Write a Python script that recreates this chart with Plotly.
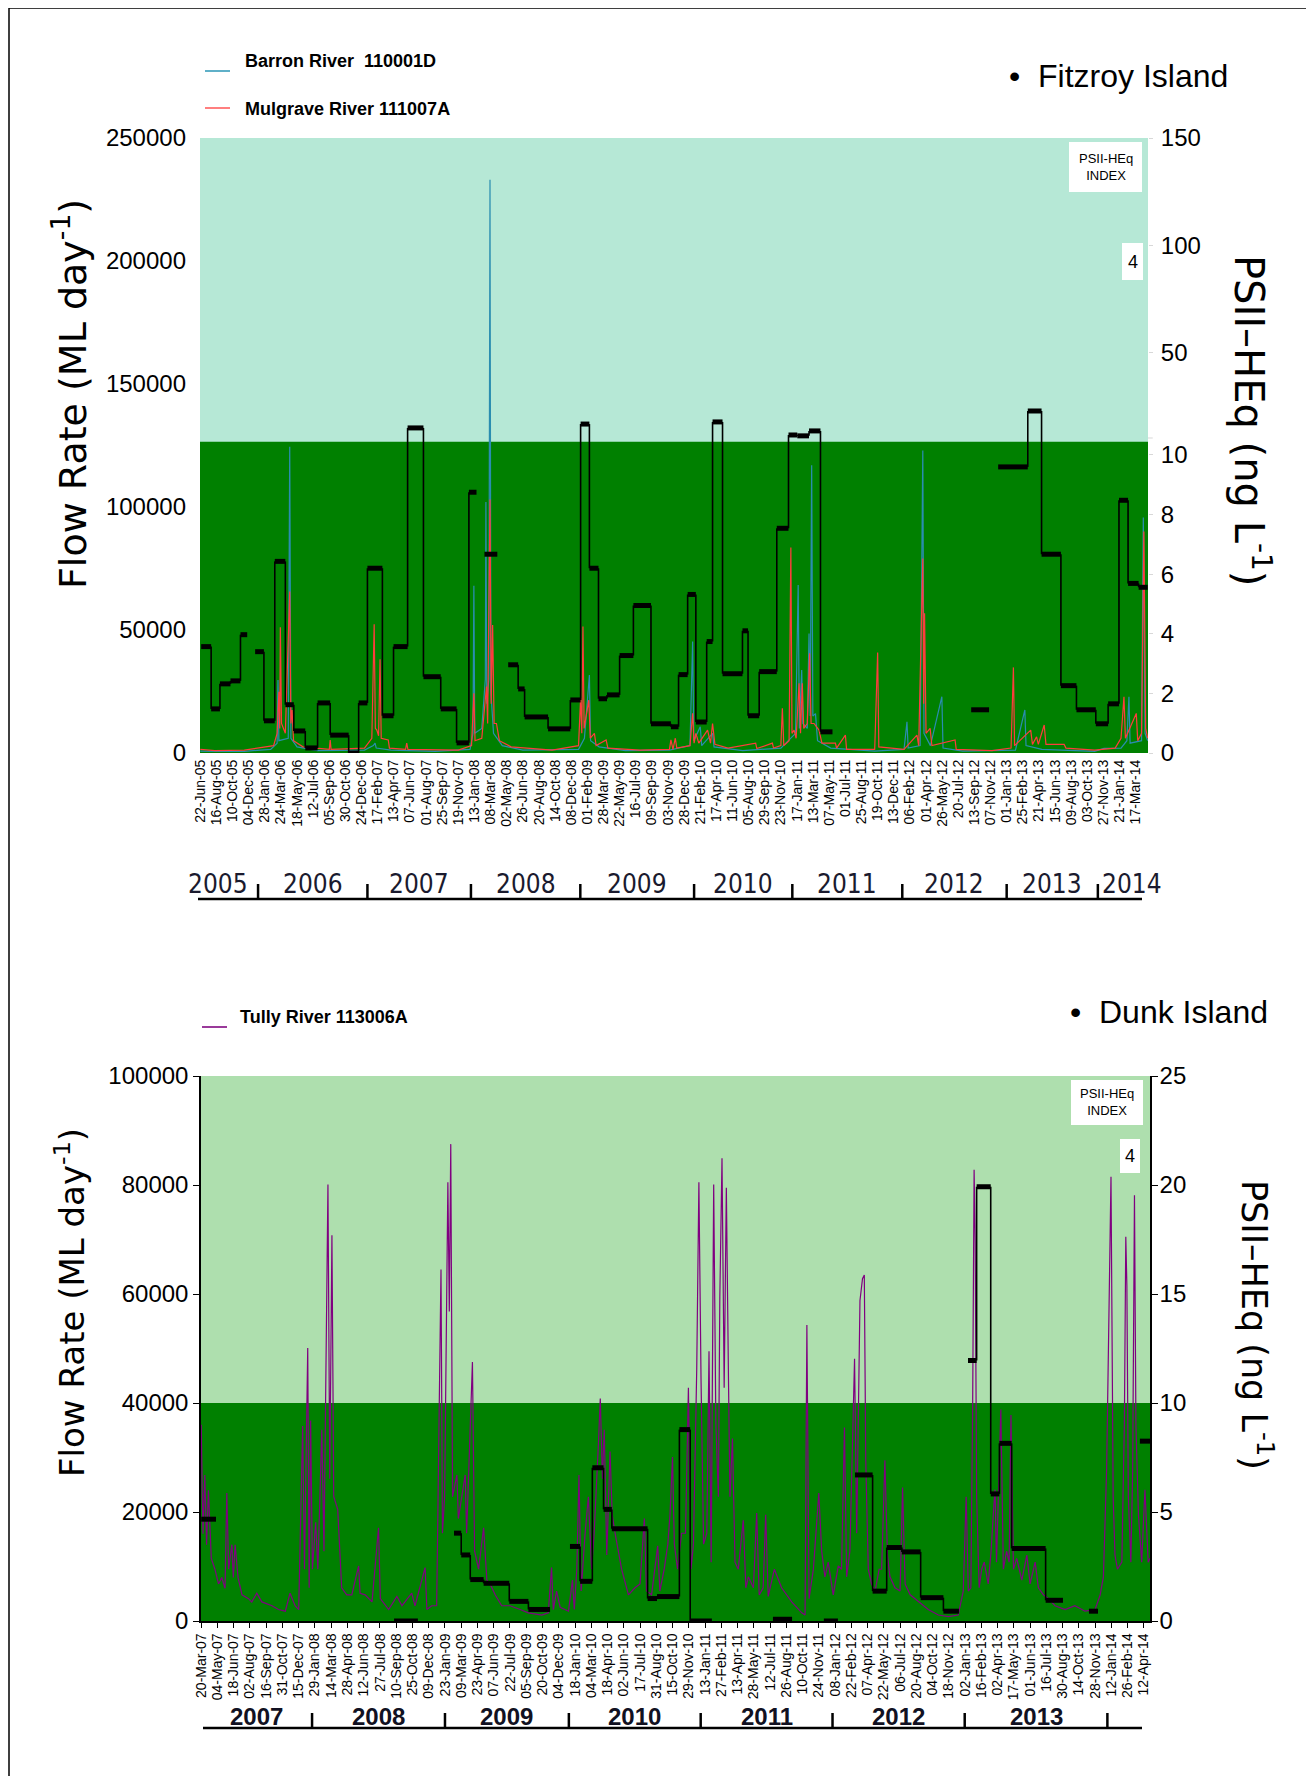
import numpy as np
import pandas as pd
import plotly.graph_objects as go

W, H = 1314, 1776
OFF = 8                      # browser body margin
FW, FH = W - OFF, H - OFF    # figure size
FONT = "Liberation Sans, Arial, sans-serif"
NARROW = "Liberation Sans Narrow, Arial Narrow, DejaVu Sans Condensed, sans-serif"
WIDE = "DejaVu Sans, Verdana, sans-serif"

# ------------------------------------------------------------------
# Fitzroy Island panel (top) -- x values are days after 22-Jun-2005
# ------------------------------------------------------------------
TOP_START = "2005-06-22"
TOP_TICK_STEP = 55
top_tick_labels = ["22-Jun-05", "16-Aug-05", "10-Oct-05", "04-Dec-05", "28-Jan-06", "24-Mar-06", "18-May-06",
                   "12-Jul-06", "05-Sep-06", "30-Oct-06", "24-Dec-06", "17-Feb-07", "13-Apr-07", "07-Jun-07",
                   "01-Aug-07", "25-Sep-07", "19-Nov-07", "13-Jan-08", "08-Mar-08", "02-May-08", "26-Jun-08",
                   "20-Aug-08", "14-Oct-08", "08-Dec-08", "01-Feb-09", "28-Mar-09", "22-May-09", "16-Jul-09",
                   "09-Sep-09", "03-Nov-09", "28-Dec-09", "21-Feb-10", "17-Apr-10", "11-Jun-10", "05-Aug-10",
                   "29-Sep-10", "23-Nov-10", "17-Jan-11", "13-Mar-11", "07-May-11", "01-Jul-11", "25-Aug-11",
                   "19-Oct-11", "13-Dec-11", "06-Feb-12", "01-Apr-12", "26-May-12", "20-Jul-12", "13-Sep-12",
                   "07-Nov-12", "01-Jan-13", "25-Feb-13", "21-Apr-13", "15-Jun-13", "09-Aug-13", "03-Oct-13",
                   "27-Nov-13", "21-Jan-14", "17-Mar-14"]
top_years = ["2005", "2006", "2007", "2008", "2009", "2010", "2011", "2012", "2013", "2014"]
# year separators as drawn in the source
top_year_bounds = ["2006-01-05", "2007-01-13", "2008-01-01", "2009-01-08", "2010-01-31",
                   "2011-01-01", "2012-01-11", "2013-01-01", "2013-11-08"]

barron_day = [0, 60, 150, 240, 262, 265, 268, 300, 305, 309, 330, 400, 560, 590, 596, 600, 650, 800, 920, 930,
              933, 936, 960, 972, 974, 977, 984, 988, 991, 1000, 1030, 1100, 1290, 1310, 1327, 1331, 1360, 1450,
              1600, 1670, 1679, 1683, 1705, 1710, 1747, 1752, 1850, 1980, 2030, 2039, 2043, 2051, 2055, 2070,
              2076, 2080, 2085, 2089, 2098, 2105, 2150, 2300, 2400, 2410, 2414, 2455, 2464, 2468, 2490, 2529,
              2533, 2600, 2780, 2812, 2816, 2870, 3050, 3082, 3140, 3160, 3167, 3171, 3210, 3216, 3222, 3231]
barron_flow = [800, 600, 700, 1500, 4000, 29700, 5000, 6000, 124500, 6000, 2500, 1000, 1200, 3000, 4000, 2000,
               1200, 700, 1500, 8000, 68000, 8000, 10000, 30000, 102000, 20000, 30000, 233000, 25000, 8000, 3000,
               1200, 1500, 6000, 31700, 5000, 2500, 1000, 1200, 3000, 45300, 5000, 10700, 3000, 8000, 2500, 1000,
               2000, 8000, 68300, 10000, 33700, 12000, 10000, 48600, 15000, 117000, 15000, 16000, 5000, 2000, 800,
               1500, 12700, 2000, 3000, 123000, 8000, 3000, 22900, 2000, 800, 1200, 17500, 3000, 1500, 700, 1900,
               2000, 5000, 22900, 4000, 5000, 95700, 8000, 5000]

mulgrave_day = [0, 50, 150, 250, 262, 268, 271, 273, 277, 290, 305, 309, 313, 318, 350, 440, 443, 446, 560, 585,
                593, 597, 602, 608, 613, 617, 641, 645, 700, 704, 708, 880, 925, 933, 937, 960, 976, 980, 988,
                992, 997, 1002, 1010, 1020, 1060, 1200, 1290, 1297, 1301, 1305, 1309, 1325, 1330, 1344, 1350,
                1384, 1390, 1500, 1600, 1605, 1612, 1620, 1625, 1670, 1679, 1684, 1690, 1700, 1730, 1740, 1747,
                1755, 1800, 1894, 1898, 1951, 1955, 1980, 1985, 1990, 2008, 2014, 2018, 2025, 2032, 2042, 2047,
                2053, 2058, 2070, 2078, 2083, 2093, 2110, 2120, 2166, 2170, 2200, 2204, 2300, 2310, 2314, 2400,
                2444, 2450, 2464, 2467, 2470, 2475, 2489, 2495, 2574, 2578, 2700, 2765, 2773, 2777, 2832, 2838,
                2852, 2858, 2878, 2884, 2946, 2952, 3050, 3120, 3140, 3150, 3155, 3192, 3197, 3210, 3218, 3224,
                3231]
mulgrave_flow = [1500, 1000, 1200, 3000, 8000, 24900, 10000, 51100, 12000, 8000, 65600, 12000, 17500, 5000, 2500,
                 1500, 5300, 1500, 2000, 6000, 52300, 10000, 9300, 7000, 38100, 6000, 5300, 2000, 1500, 4000, 1500,
                 1200, 3000, 24300, 5000, 6000, 27000, 12000, 103000, 20000, 52000, 12000, 12000, 5000, 2500, 1200,
                 3000, 22200, 8000, 51400, 10000, 21500, 6000, 8000, 3000, 5300, 2000, 1200, 1500, 5300, 1500,
                 6000, 2000, 3000, 16100, 4000, 8000, 4000, 9300, 4000, 12000, 3500, 2000, 4000, 1800, 4000, 2000,
                 3000, 18200, 3000, 5000, 83500, 8000, 9300, 6000, 28300, 8000, 28300, 10000, 12000, 40500, 12000,
                 12000, 9300, 4000, 4000, 2000, 7300, 1500, 1500, 40800, 2500, 1500, 7300, 3000, 79100, 20000,
                 56800, 8000, 10000, 3000, 5300, 1500, 1000, 2000, 34800, 3000, 9300, 3500, 6600, 3500, 11400,
                 3500, 3500, 2000, 1200, 2000, 6000, 22900, 6000, 16100, 5000, 8000, 90000, 10000, 6000]

fitz_start = [3, 37, 67, 103, 137, 187, 217, 254, 290, 319, 358, 400, 443, 506, 540, 570, 621, 659, 707, 761,
              820, 874, 916, 969, 1050, 1084, 1106, 1186, 1262, 1297, 1327, 1358, 1387, 1430, 1477, 1537, 1605,
              1631, 1662, 1690, 1727, 1747, 1781, 1849, 1868, 1906, 1966, 2006, 2036, 2076, 2115, 2629, 2721,
              2822, 2869, 2935, 2988, 3054, 3096, 3133, 3164, 3200]
fitz_end = [37, 67, 103, 137, 160, 217, 254, 290, 319, 358, 400, 443, 506, 540, 570, 621, 659, 707, 761, 820,
            874, 916, 942, 1013, 1084, 1106, 1186, 1262, 1297, 1327, 1358, 1387, 1430, 1477, 1537, 1605, 1631,
            1662, 1690, 1727, 1747, 1781, 1849, 1868, 1906, 1966, 2006, 2036, 2076, 2115, 2156, 2690, 2822,
            2869, 2935, 2988, 3054, 3096, 3133, 3164, 3200, 3231]
fitz_psii = [3.57, 1.48, 2.32, 2.42, 3.97, 3.4, 1.08, 6.43, 1.62, 0.74, 0.17, 1.68, 0.6, 0.0, 1.68, 6.2, 1.25,
             3.57, 14.7, 2.56, 1.48, 0.34, 8.75, 6.67, 2.96, 2.15, 1.21, 0.81, 1.78, 16.5, 6.2, 1.82, 1.95, 3.27,
             4.95, 0.98, 0.88, 2.63, 5.32, 1.04, 3.74, 17.5, 2.66, 4.1, 1.25, 2.73, 7.54, 11.4, 11.0, 13.3, 0.71,
             1.45, 9.6, 22.6, 6.67, 2.26, 1.45, 0.98, 1.65, 8.48, 5.69, 5.56]
fitz_right_ticks_low = [0, 2, 4, 6, 8, 10]
fitz_right_ticks_high = [50, 100, 150]

# ------------------------------------------------------------------
# Dunk Island panel (bottom) -- x values are days after 20-Mar-2007
# (the source date axis drops ~30 days in mid-2013; labels follow it)
# ------------------------------------------------------------------
BOT_START = "2007-03-20"
BOT_TICK_STEP = 45
bot_tick_labels = ["20-Mar-07", "04-May-07", "18-Jun-07", "02-Aug-07", "16-Sep-07", "31-Oct-07", "15-Dec-07",
                   "29-Jan-08", "14-Mar-08", "28-Apr-08", "12-Jun-08", "27-Jul-08", "10-Sep-08", "25-Oct-08",
                   "09-Dec-08", "23-Jan-09", "09-Mar-09", "23-Apr-09", "07-Jun-09", "22-Jul-09", "05-Sep-09",
                   "20-Oct-09", "04-Dec-09", "18-Jan-10", "04-Mar-10", "18-Apr-10", "02-Jun-10", "17-Jul-10",
                   "31-Aug-10", "15-Oct-10", "29-Nov-10", "13-Jan-11", "27-Feb-11", "13-Apr-11", "28-May-11",
                   "12-Jul-11", "26-Aug-11", "10-Oct-11", "24-Nov-11", "08-Jan-12", "22-Feb-12", "07-Apr-12",
                   "22-May-12", "06-Jul-12", "20-Aug-12", "04-Oct-12", "18-Nov-12", "02-Jan-13", "16-Feb-13",
                   "02-Apr-13", "17-May-13", "01-Jun-13", "16-Jul-13", "30-Aug-13", "14-Oct-13", "28-Nov-13",
                   "12-Jan-14", "26-Feb-14", "12-Apr-14"]
bot_years = ["2007", "2008", "2009", "2010", "2011", "2012", "2013"]
bot_year_bounds = ["2008-01-21", "2009-01-23", "2010-01-01", "2011-01-01", "2012-01-01",
                   "2013-01-01", "2014-01-31"]

tully_day = [0, 5, 10, 15, 20, 28, 38, 48, 57, 66, 71, 76, 85, 89, 94, 102, 113, 131, 140, 154, 168, 196, 214,
             233, 246, 260, 270, 281, 286, 295, 299, 303, 308, 317, 323, 334, 340, 351, 356, 362, 367, 378, 389,
             403, 417, 436, 440, 454, 473, 491, 496, 519, 542, 556, 583, 592, 620, 625, 638, 652, 664, 668, 674,
             683, 687, 691, 696, 708, 712, 722, 731, 735, 751, 757, 768, 782, 791, 800, 814, 832, 855, 883,
             906, 943, 961, 970, 975, 984, 994, 1017, 1028, 1033, 1040, 1046, 1052, 1063, 1072, 1081, 1088, 1100,
             1105, 1111, 1116, 1123, 1132, 1138, 1146, 1164, 1183, 1201, 1215, 1227, 1233, 1247, 1264, 1270,
             1282, 1292, 1298, 1305, 1310, 1319, 1330, 1341, 1349, 1356, 1363, 1372, 1378, 1384, 1391, 1400,
             1406, 1412, 1419, 1425, 1432, 1436, 1442, 1448, 1454, 1460, 1464, 1471, 1478, 1487, 1501, 1508,
             1515, 1529, 1538, 1545, 1556, 1563, 1570, 1587, 1607, 1635, 1663, 1672, 1677, 1683, 1695, 1710,
             1718, 1727, 1736, 1750,
             1764, 1773, 1781, 1787, 1796, 1809, 1815, 1824, 1831, 1836, 1840, 1847, 1856, 1866, 1877, 1884,
             1893, 1900, 1907, 1921, 1935, 1942, 1949, 1963, 1986, 2013, 2041, 2069, 2096, 2110, 2118, 2124,
             2131, 2136, 2140, 2143, 2147, 2154, 2161, 2168, 2179, 2187, 2193, 2198, 2202, 2209, 2214, 2221,
             2230, 2237, 2242, 2249, 2258, 2272, 2286, 2295, 2309, 2318, 2332, 2346, 2364, 2392, 2419, 2447,
             2475, 2489, 2498, 2507, 2513, 2519, 2525, 2530, 2537, 2549, 2556, 2560, 2563, 2567, 2574, 2579,
             2584, 2588, 2595, 2604, 2613, 2622, 2627]
tully_flow = [36000, 16000, 26800, 14000, 24000, 11500, 9500, 6800, 8000, 6000, 23500, 9500, 14000, 8000, 14000,
              8000, 4800, 4100, 3500, 5100, 3500, 2800, 2100, 1800, 5100, 2800, 2100, 35800, 9500, 50100, 6100,
              36800, 9500, 18100, 9500, 35100, 12800, 80100, 26100, 70800, 22800, 20500, 6100, 4800, 4800, 10100,
              5100, 4800, 3500, 17100, 4100, 2100, 4500, 2800, 5100, 2800, 9800, 2100, 2800, 2800, 64500, 16100,
              22800, 80500, 56800, 87500, 22800, 26800, 18800, 22800, 26800, 16100, 47500, 12800, 9500, 17100,
              7500, 6800, 4800, 2800, 2800, 2100,
              1500, 1100, 1500, 9800, 2100, 5500, 2500, 1800, 7500, 2100, 9500, 26800, 5500, 16100, 22800, 9500,
              16100, 32800, 40800, 26100, 35100, 12100, 31100, 19500, 16100, 9500, 4800, 6100, 6800, 18800, 5500,
              4800, 13800, 5500, 9500, 14100, 19500, 30100, 14100, 9500, 16100, 16100, 42800, 9500, 14100, 46100,
              80500, 44100, 14100, 16100, 49500, 10800, 80100, 36100, 22800, 59500, 84900, 42800, 79500, 44100,
              22800, 33500, 10800, 9500, 18500, 6100, 8100, 6100, 19800, 4800, 6100, 19500, 4500, 9500, 6100,
              3500, 1500, 1100, 54300, 4100, 9500, 23500, 12800, 8100, 10800, 4800,
              10100, 9500, 35500, 8100, 12800, 48100, 16100, 58800, 62800, 63500, 29500, 9500, 6800, 5500, 9500,
              9500, 29500, 12100, 8100, 6100, 5500, 24500, 6800, 4800, 3500, 2100, 1100, 800, 1100, 5500, 22800,
              5500, 6100, 39500, 82800, 69500, 22800, 6100, 9500, 10800, 6800, 12800, 19500, 24100, 10800, 27500,
              38800, 9500, 12800, 10800, 37800, 9500, 11500, 7500, 12100, 6800, 10800, 6100, 4800, 4100, 2800,
              2100, 2800, 1800, 2100, 4800, 8100, 28100, 56800, 81500, 22800, 12100, 9500, 10800, 36100, 70500,
              61500, 22800, 10800, 27500, 78100, 36100, 19500, 10800, 24100, 10800, 11500]

dunk_start = [0, 534, 700, 720, 745, 782, 853, 906, 1021, 1049, 1083, 1114, 1137, 1236, 1262, 1324, 1354, 1583,
              1724, 1810, 1859, 1898, 1940, 1992, 2055, 2123, 2147, 2186, 2210, 2244, 2338, 2458, 2599]
dunk_end = [41, 600, 720, 745, 782, 853, 906, 966, 1049, 1083, 1114, 1137, 1236, 1262, 1324, 1354, 1414, 1636,
            1763, 1859, 1898, 1940, 1992, 2055, 2098, 2147, 2186, 2210, 2244, 2338, 2386, 2483, 2627]
dunk_psii = [4.67, 0.0, 4.03, 3.03, 1.9, 1.73, 0.9, 0.53, 3.42, 1.82, 7.03, 5.12, 4.23, 1.03, 1.12, 8.78, 0.0,
             0.08, 0.0, 6.7, 1.37, 3.37, 3.17, 1.07, 0.45, 11.95, 19.92, 5.83, 8.15, 3.33, 0.95, 0.45, 8.25]

# ------------------------------------------------------------------
T0 = pd.Timestamp(TOP_START)
B0 = pd.Timestamp(BOT_START)


def dates(t0, days):
    return [t0 + pd.Timedelta(days=float(v)) for v in days]


def px(x):
    return (x - OFF) / FW


def py(y):
    return 1 - (y - OFF) / FH


# broken right axis of the Fitzroy panel: 0-10 linear, then 10-150 compressed
def fitz_t(v):
    return v if v <= 10 else 10.57 + (v - 10) * 0.0719


def ident(v):
    return v


def steps(t0, starts, ends, vals, tf):
    bx, by, cx, cy = [], [], [], []
    for i, (s, e, v) in enumerate(zip(starts, ends, vals)):
        bx += [t0 + pd.Timedelta(days=s), t0 + pd.Timedelta(days=e), None]
        by += [tf(v), tf(v), None]
        if i + 1 < len(starts) and starts[i + 1] == e:
            cx += [t0 + pd.Timedelta(days=e)] * 2 + [None]
            cy += [tf(v), tf(vals[i + 1]), None]
    return bx, by, cx, cy


fig = go.Figure()

# top flows
fig.add_trace(go.Scatter(x=dates(T0, barron_day), y=barron_flow, mode="lines", name="Barron River  110001D",
                         line=dict(color="#2a8db0", width=1.2), xaxis="x", yaxis="y", showlegend=False))
fig.add_trace(go.Scatter(x=dates(T0, mulgrave_day), y=mulgrave_flow, mode="lines", name="Mulgrave River 111007A",
                         line=dict(color="#ff3c3c", width=1.2), xaxis="x", yaxis="y", showlegend=False))
bx, by, cx, cy = steps(T0, fitz_start, fitz_end, fitz_psii, fitz_t)
fig.add_trace(go.Scatter(x=cx, y=cy, mode="lines", line=dict(color="black", width=1.6),
                         xaxis="x", yaxis="y2", showlegend=False, hoverinfo="skip"))
fig.add_trace(go.Scatter(x=bx, y=by, mode="lines", line=dict(color="black", width=5),
                         xaxis="x", yaxis="y2", showlegend=False, name="PSII-HEq"))

# bottom flows
fig.add_trace(go.Scatter(x=dates(B0, tully_day), y=tully_flow, mode="lines", name="Tully River 113006A",
                         line=dict(color="#800080", width=1.2), xaxis="x2", yaxis="y3", showlegend=False))
bx, by, cx, cy = steps(B0, dunk_start, dunk_end, dunk_psii, ident)
fig.add_trace(go.Scatter(x=cx, y=cy, mode="lines", line=dict(color="black", width=1.6),
                         xaxis="x2", yaxis="y4", showlegend=False, hoverinfo="skip"))
fig.add_trace(go.Scatter(x=bx, y=by, mode="lines", line=dict(color="black", width=5),
                         xaxis="x2", yaxis="y4", showlegend=False, name="PSII-HEq"))

top_tickvals = [T0 + pd.Timedelta(days=TOP_TICK_STEP * i) for i in range(len(top_tick_labels))]
bot_tickvals = [B0 + pd.Timedelta(days=BOT_TICK_STEP * i) for i in range(len(bot_tick_labels))]
top_range = [T0 - pd.Timedelta(days=1), T0 + pd.Timedelta(days=3232)]
bot_range = [B0 - pd.Timedelta(days=0.5), B0 + pd.Timedelta(days=2627)]

r_vals = [fitz_t(v) for v in fitz_right_ticks_low] + [fitz_t(v) for v in fitz_right_ticks_high]
r_text = [str(v) for v in fitz_right_ticks_low] + [str(v) for v in fitz_right_ticks_high]

tickfont_big = dict(family=FONT, size=24, color="black")
tickfont_small = dict(family=FONT, size=14, color="black")

fig.update_layout(
    width=FW, height=FH, template="none",
    margin=dict(l=0, r=0, t=0, b=0),
    paper_bgcolor="white", plot_bgcolor="white",
    font=dict(family=FONT, color="black"),
    xaxis=dict(domain=[px(200), px(1148)], anchor="y", type="date", range=top_range,
               tickmode="array", tickvals=top_tickvals, ticktext=top_tick_labels, tickangle=-90,
               tickfont=tickfont_small, showgrid=False, zeroline=False, showline=False, ticks="",
               ticklabelstandoff=3),
    yaxis=dict(domain=[py(753), py(138)], anchor="x", range=[0, 250000],
               tickvals=[0, 50000, 100000, 150000, 200000, 250000], tickformat="d",
               tickfont=tickfont_big, showgrid=False, zeroline=False, showline=False, ticks="",
               ticklabelstandoff=13),
    yaxis2=dict(overlaying="y", side="right", anchor="x", range=[0, fitz_t(150)],
                tickmode="array", tickvals=r_vals, ticktext=r_text, tickfont=tickfont_big,
                showgrid=False, zeroline=False, showline=False, ticks="outside", ticklen=4,
                tickcolor="#d8d8d8", ticklabelstandoff=3),
    xaxis2=dict(domain=[px(201), px(1150)], anchor="y3", type="date", range=bot_range,
                tickmode="array", tickvals=bot_tickvals, ticktext=bot_tick_labels, tickangle=-90,
                tickfont=tickfont_small, showgrid=False, zeroline=False, showline=True,
                linecolor="black", linewidth=1.5, ticks="outside", ticklen=5, tickcolor="black"),
    yaxis3=dict(domain=[py(1621), py(1076)], anchor="x2", range=[0, 100000], dtick=20000, tickformat="d",
                tickfont=tickfont_big, showgrid=False, zeroline=False, showline=True, linecolor="black",
                linewidth=1.5, ticks="outside", ticklen=6, tickcolor="black", ticklabelstandoff=0),
    yaxis4=dict(overlaying="y3", side="right", anchor="x2", range=[0, 25], dtick=5,
                tickfont=tickfont_big, showgrid=False, zeroline=False, showline=True, linecolor="black",
                linewidth=1.5, ticks="outside", ticklen=6, tickcolor="black", ticklabelstandoff=-3),
)

shapes = [
    # page frame
    dict(type="rect", xref="paper", yref="paper", x0=px(9), x1=px(1330), y0=py(1790), y1=py(8),
         line=dict(color="black", width=1.5), fillcolor="rgba(0,0,0,0)"),
    # top backgrounds
    dict(type="rect", xref="x domain", yref="y domain", x0=0, x1=1, y0=0, y1=1,
         fillcolor="#b6e8d6", line_width=0, layer="below"),
    dict(type="rect", xref="x domain", yref="y2", x0=0, x1=1, y0=0, y1=10.44,
         fillcolor="#008000", line_width=0, layer="below"),
    # bottom backgrounds
    dict(type="rect", xref="x2 domain", yref="y3 domain", x0=0, x1=1, y0=0, y1=1,
         fillcolor="#aedfae", line_width=0, layer="below"),
    dict(type="rect", xref="x2 domain", yref="y4", x0=0, x1=1, y0=0, y1=10,
         fillcolor="#008000", line_width=0, layer="below"),
    # upper-segment start tick of the broken right axis
    dict(type="line", xref="x domain", yref="y2", x0=1, x1=1.005, y0=10.57, y1=10.57,
         line=dict(color="#d8d8d8", width=1)),
    # legend keys
    dict(type="line", xref="paper", yref="paper", x0=px(205), x1=px(230), y0=py(71), y1=py(71),
         line=dict(color="#5fb0c8", width=2)),
    dict(type="line", xref="paper", yref="paper", x0=px(205), x1=px(230), y0=py(108), y1=py(108),
         line=dict(color="#ff7f7f", width=2)),
    dict(type="line", xref="paper", yref="paper", x0=px(202), x1=px(227), y0=py(1027), y1=py(1027),
         line=dict(color="#9a3a9a", width=2)),
    # year rows
    dict(type="line", xref="paper", yref="paper", x0=px(198), x1=px(1142), y0=py(899), y1=py(899),
         line=dict(color="black", width=2.5)),
    dict(type="line", xref="paper", yref="paper", x0=px(203), x1=px(1142), y0=py(1728), y1=py(1728),
         line=dict(color="black", width=2.5)),
    # index boxes
    dict(type="rect", xref="paper", yref="paper", x0=px(1069), x1=px(1142), y0=py(192), y1=py(142),
         fillcolor="white", line_width=0),
    dict(type="rect", xref="paper", yref="paper", x0=px(1122), x1=px(1143), y0=py(280), y1=py(243),
         fillcolor="white", line_width=0),
    dict(type="rect", xref="paper", yref="paper", x0=px(1071), x1=px(1143), y0=py(1125), y1=py(1080),
         fillcolor="white", line_width=0),
    dict(type="rect", xref="paper", yref="paper", x0=px(1120), x1=px(1140), y0=py(1173), y1=py(1139),
         fillcolor="white", line_width=0),
]
for b in top_year_bounds:
    shapes.append(dict(type="line", xref="x", yref="paper", x0=b, x1=b, y0=py(899), y1=py(884),
                       line=dict(color="black", width=2.5)))
for b in bot_year_bounds:
    shapes.append(dict(type="line", xref="x2", yref="paper", x0=b, x1=b, y0=py(1728), y1=py(1713),
                       line=dict(color="black", width=2.5)))

annotations = []


def ann(text, x, y, size, family=FONT, xanchor="center", yanchor="middle", angle=0, color="black", bold=False):
    annotations.append(dict(text=("<b>%s</b>" % text) if bold else text, xref="paper", yref="paper",
                            x=px(x), y=py(y), showarrow=False, xanchor=xanchor, yanchor=yanchor,
                            textangle=angle, font=dict(family=family, size=size, color=color)))


# legends and station names
ann("Barron River  110001D", 243, 61, 18, xanchor="left", bold=True)
ann("Mulgrave River 111007A", 243, 109, 18, xanchor="left", bold=True)
ann("Tully River 113006A", 238, 1017, 18, xanchor="left", bold=True)
ann("•  Fitzroy Island", 1007, 76, 32, xanchor="left")
ann("•  Dunk Island", 1068, 1012, 32, xanchor="left")

# axis titles
ann("Flow Rate (ML day<sup>-1</sup>)", 70, 394, 38, family=WIDE, angle=-90)
ann("Flow Rate (ML day<sup>-1</sup>)", 70, 1303, 34, family=WIDE, angle=-90)
ann("PSII\u2013HEq (ng L<sup>-1</sup>)", 1252, 420, 40, family=WIDE, angle=90)
ann("PSII\u2013HEq (ng L<sup>-1</sup>)", 1257, 1325, 35, family=WIDE, angle=90)

# index boxes text
ann("PSII-HEq<br>INDEX", 1105.5, 167, 13)
ann("4", 1132.5, 262, 18)
ann("PSII-HEq<br>INDEX", 1107, 1102, 13)
ann("4", 1130, 1156, 18)

fig.update_layout(shapes=shapes, annotations=annotations)

# year labels (centred between year separators, in data coordinates;
# the two partial years at the ends sit against their separator)
tb = [top_range[0]] + [pd.Timestamp(b) for b in top_year_bounds] + [top_range[1]]
n_top = len(top_years)
for i, yr in enumerate(top_years):
    mid = tb[i] + (tb[i + 1] - tb[i]) / 2
    shift = -11 if i == 0 else (9 if i == n_top - 1 else 0)
    fig.add_annotation(text=yr, xref="x", yref="paper", x=mid, y=py(884), showarrow=False,
                       xanchor="center", yanchor="middle", xshift=shift,
                       font=dict(family=NARROW, size=26, color="#1a1a2e"))
bb = [bot_range[0]] + [pd.Timestamp(b) for b in bot_year_bounds]
for i, yr in enumerate(bot_years):
    mid = bb[i] + (bb[i + 1] - bb[i]) / 2
    fig.add_annotation(text="<b>%s</b>" % yr, xref="x2", yref="paper", x=mid, y=py(1716), showarrow=False,
                       xanchor="center", yanchor="middle",
                       font=dict(family=FONT, size=24, color="#111122"))

fig.write_html("out.html")
